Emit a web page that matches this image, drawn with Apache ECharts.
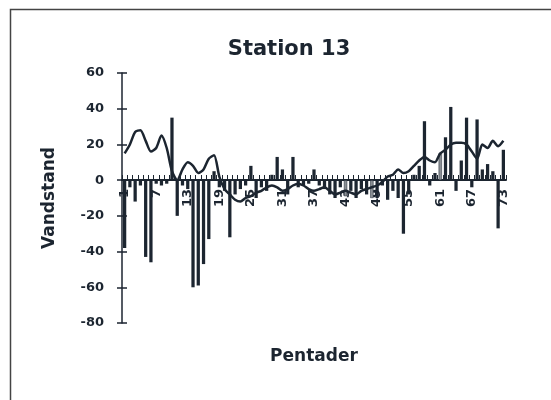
<!DOCTYPE html>
<html>
<head>
<meta charset="utf-8">
<script src="https://cdn.jsdelivr.net/npm/echarts@6/dist/echarts.min.js"></script>
<style>
html,body{margin:0;padding:0;background:#fff;}
#chart{width:551px;height:400px;}
</style>
</head>
<body>
<div id="chart"></div>
<script>
// Pentads 1..73
const categories = Array.from({length: 73}, (_, i) => String(i + 1));

// Dark bars (Vandstand per pentade)
const barValues = [
  -38, -4, -12, -3, -43, -46, -2, -3, -2, 35,
  -20, -3, -5, -60, -59, -47, -33, 5, -4, -6,
  -32, -8, -5, -3, 8, -10, -4, -6, 3, 13,
  6, -8, 13, -4, -3, -2, 6, -3, -5, -8,
  -10, -4, null, -6, -10, -5, -8, null, -10, -3,
  -11, -6, -10, -30, -8, 3, 8, 33, -3, 4,
  null, 24, 41, -6, 11, 35, -4, 34, 6, 9,
  5, -27, 17
];

// Grey bars
const greyValues = [
  null, null, null, null, null, null, null, null, null, null,
  null, null, null, null, null, null, null, null, null, null,
  null, null, null, null, null, null, null, null, null, null,
  null, null, null, null, null, null, null, null, null, null,
  null, null, -9, null, null, null, null, -10, null, null,
  null, null, null, null, null, null, null, null, null, null,
  15, null, null, null, null, null, null, null, null, null,
  null, null, null
];

// Line (smoothed level)
const lineValues = [
  15, 20, 27, 28, 22, 16, 18, 25, 18, 5,
  0, 6, 10, 8, 4, 6, 12, 14, 2, -5,
  -8, -11, -12, -10, -9, -7, -6, -4, -3, -4,
  -6, -5, -3, -2, -3, -5, -6, -5, -4, -6,
  -8, -7, -6, -7, -8, -6, -5, -4, -3, -1,
  2, 3, 6, 4, 5, 8, 11, 13, 11, 10,
  15, 17, 20, 21, 21, 20, 16, 12, 20, 18,
  22, 19, 22
];

const yTicks = [-80, -60, -40, -20, 0, 20, 40, 60];

const FONT = 'DejaVu Sans, Liberation Sans, Arial, sans-serif';
const INK = '#1c2530';

const chart = echarts.init(document.getElementById('chart'), null, {renderer: 'canvas'});
chart.setOption({
  backgroundColor: '#fff',
  animation: false,
  title: {
    text: 'Station 13',
    left: 284,
    top: 34,
    textAlign: 'center',
    textStyle: {fontFamily: FONT, fontSize: 21, fontWeight: 'bold', color: INK}
  },
  graphic: [{
    type: 'rect',
    shape: {x: 10.5, y: 9.5, width: 600, height: 450},
    style: {fill: 'none', stroke: '#444', lineWidth: 1.5},
    silent: true
  }],
  grid: {left: 122, right: 45, top: 73, bottom: 77, containLabel: false, outerBoundsMode: 'none'},
  xAxis: {
    type: 'category',
    data: categories,
    position: 'bottom',
    offset: -143,
    name: 'Pentader',
    nameLocation: 'middle',
    nameGap: 168,
    nameMoveOverlap: false,
    nameTextStyle: {fontFamily: FONT, fontSize: 17, fontWeight: 'bold', color: INK},
    axisLine: {onZero: false, lineStyle: {color: INK, width: 2}},
    axisTick: {show: true, inside: true, length: 5, interval: 0, lineStyle: {color: INK, width: 1}},
    axisLabel: {
      interval: 5,
      rotate: 90,
      margin: 9,
      fontFamily: FONT, fontSize: 13, fontWeight: 'bold', color: INK
    },
    splitLine: {show: false}
  },
  yAxis: [{
    type: 'value',
    min: yTicks[0],
    max: yTicks[yTicks.length - 1],
    interval: 20,
    name: 'Vandstand',
    nameLocation: 'middle',
    nameGap: 64,
    nameTextStyle: {fontFamily: FONT, fontSize: 17, fontWeight: 'bold', color: INK},
    axisLine: {show: true, lineStyle: {color: INK, width: 1.5}},
    axisTick: {show: true, length: 5, lineStyle: {color: INK, width: 1.5}},
    axisLabel: {margin: 18, fontFamily: FONT, fontSize: 13, fontWeight: 'bold', color: INK},
    splitLine: {show: false}
  }, {
    type: 'value',
    position: 'left',
    min: yTicks[0],
    max: yTicks[yTicks.length - 1],
    interval: 20,
    axisLine: {show: false},
    axisTick: {show: true, inside: true, length: 5, lineStyle: {color: INK, width: 1.5}},
    axisLabel: {show: false},
    splitLine: {show: false}
  }],
  series: [{
    type: 'bar',
    data: barValues,
    barWidth: '62%',
    itemStyle: {color: INK},
    z: 2
  }, {
    type: 'bar',
    data: greyValues,
    barWidth: '62%',
    barGap: '-100%',
    itemStyle: {color: '#8a8f94', borderColor: INK, borderWidth: 0.5},
    z: 2
  }, {
    type: 'line',
    data: lineValues,
    smooth: 0.25,
    symbol: 'none',
    lineStyle: {color: INK, width: 2.5},
    z: 3
  }]
});
</script>
</body>
</html>
